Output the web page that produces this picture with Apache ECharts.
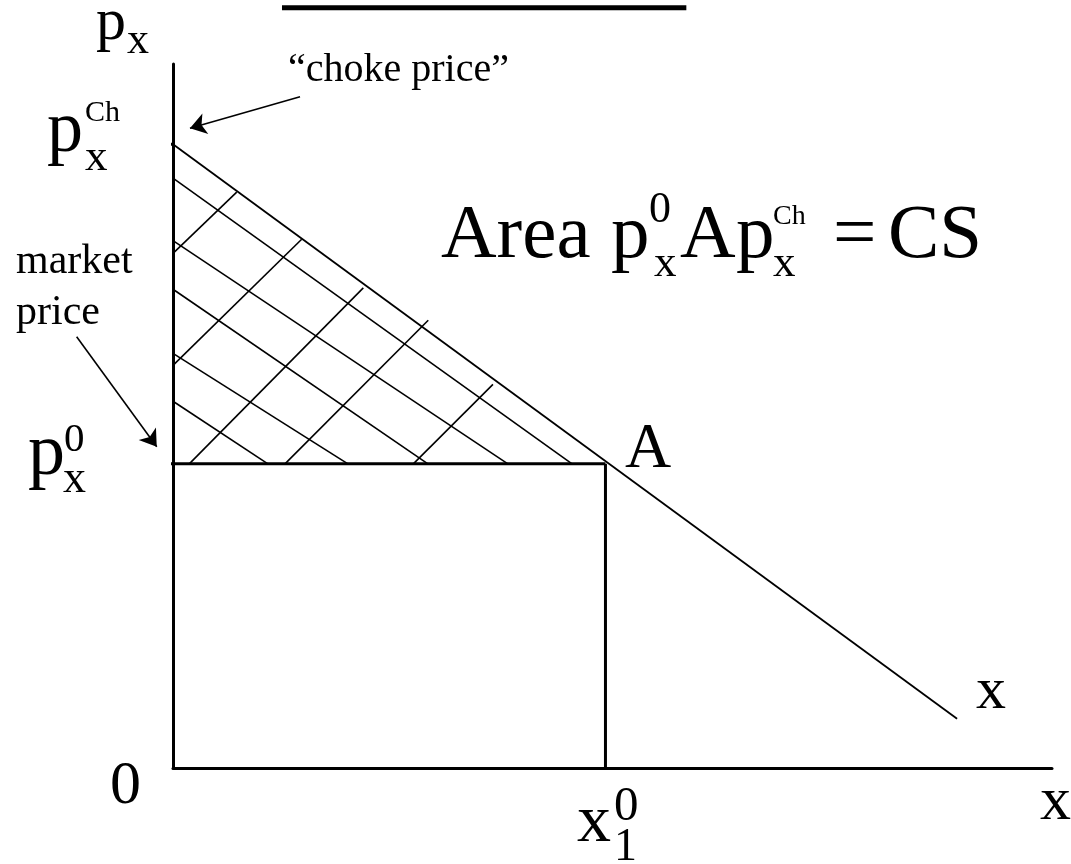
<!DOCTYPE html>
<html>
<head>
<meta charset="utf-8">
<script src="https://cdn.jsdelivr.net/npm/echarts@6/dist/echarts.min.js"></script>
<style>
html,body{margin:0;padding:0;background:#fff;}
#chart{width:1071px;height:864px;}
</style>
</head>
<body>
<div id="chart"></div>
<script>
// ---- data (axis units: x 0..100, p 0..100) ----
const chokePrice = 88.6;           // p_x^Ch
const marketPrice = 43.2;          // p_x^0
const quantity0 = 49.2;            // x_1^0
const tickLeftX = -3.5;            // left end of price ticks
const demandX = [0, 89.2];
const demandY = [88.6, 7.0];
// hatch lines running down-right (from price axis to market price line)
const hatchDownStartY = [83.8, 74.9, 68.0, 58.9, 52.1];
const hatchDownEndX = [45.4, 38.1, 29.0, 19.9, 10.8];
// hatch lines running up-right
const hatchUpStartX = [0, 0, 1.85, 12.74, 27.34];
const hatchUpStartY = [73.1, 57.2, 43.2, 43.2, 43.2];
const hatchUpEndX = [7.25, 14.64, 21.65, 29.04, 36.4];
const hatchUpEndY = [81.8, 75.1, 68.2, 63.6, 54.5];
// annotation arrows [fromX, fromY, toX, toY]
const chokeArrow = [14.45, 95.35, 1.93, 90.87];
const marketArrow = [-10.96, 61.26, -1.85, 45.64];
// rule at the top of the slide
const topRuleX = [12.4, 58.4];
const topRuleY = 108.0;

// ---- build series ----
function seg(points, width) {
  return {
    type: 'line', data: points, symbol: 'none', clip: false, silent: true,
    animation: false, lineStyle: { color: '#000', width: width, cap: 'butt' }
  };
}
const series = [];
series.push(seg([[demandX[0], demandY[0]], [demandX[1], demandY[1]]], 1.8));
series.push(seg([[tickLeftX, chokePrice], [0, chokePrice]], 3));
series.push(seg([[tickLeftX, marketPrice], [quantity0, marketPrice]], 3));
series.push(seg([[quantity0, marketPrice], [quantity0, 0]], 3));
for (let i = 0; i < hatchDownStartY.length; i++) {
  series.push(seg([[0, hatchDownStartY[i]], [hatchDownEndX[i], marketPrice]], 1.6));
}
for (let i = 0; i < hatchUpStartX.length; i++) {
  series.push(seg([[hatchUpStartX[i], hatchUpStartY[i]], [hatchUpEndX[i], hatchUpEndY[i]]], 1.6));
}
series.push(seg([[topRuleX[0], topRuleY], [topRuleX[1], topRuleY]], 5));
series.push({
  type: 'lines', coordinateSystem: 'cartesian2d', clip: false, silent: true, animation: false,
  symbol: ['none', 'arrow'], symbolSize: [12, 16],
  lineStyle: { color: '#000', width: 1.6, opacity: 1, curveness: 0 },
  data: [
    { coords: [[chokeArrow[0], chokeArrow[1]], [chokeArrow[2], chokeArrow[3]]] },
    { coords: [[marketArrow[0], marketArrow[1]], [marketArrow[2], marketArrow[3]]] }
  ]
});

// ---- text labels (left, baseline, size) ----
const FONT = '"Liberation Serif", "Times New Roman", serif';
function label(str, left, baseline, size) {
  return {
    type: 'text', x: left, y: baseline - 0.32 * size, silent: true,
    style: { text: str, fill: '#000', font: size + 'px ' + FONT, align: 'left', verticalAlign: 'middle' }
  };
}
const labels = [
  label('p', 96, 42, 60), label('x', 127, 56, 44),
  label('\u201Cchoke price\u201D', 288, 83, 40),
  label('p', 47, 155, 72), label('Ch', 85, 123, 30), label('x', 85, 173, 45),
  label('Area', 441, 261, 77),
  label('p', 611, 261, 77), label('0', 649, 225, 44), label('x', 654, 279, 45),
  label('A', 680, 261, 77),
  label('p', 736, 261, 77), label('Ch', 773, 226, 28), label('x', 773, 279, 45),
  label('=', 833, 261, 77),
  label('CS', 888, 261, 77),
  label('market', 16, 275, 42), label('price', 16, 326, 42),
  label('p', 28, 478, 74), label('0', 64, 453, 41), label('x', 63, 495, 46),
  label('A', 625, 471, 64),
  label('x', 976, 711, 60),
  label('0', 110, 807, 62),
  label('x', 577, 845, 68), label('0', 614, 823, 49), label('1', 614, 863, 46),
  label('x', 1040, 823, 62)
];

const chart = echarts.init(document.getElementById('chart'), null, { renderer: 'canvas' });
chart.setOption({
  backgroundColor: '#fff',
  animation: false,
  grid: { left: 173, right: 19, top: 64, bottom: 96 },
  xAxis: {
    type: 'value', min: 0, max: 100,
    axisLine: { show: true, onZero: true, lineStyle: { color: '#000', width: 3 } },
    axisTick: { show: false }, axisLabel: { show: false }, splitLine: { show: false }
  },
  yAxis: {
    type: 'value', min: 0, max: 100,
    axisLine: { show: true, onZero: true, lineStyle: { color: '#000', width: 3 } },
    axisTick: { show: false }, axisLabel: { show: false }, splitLine: { show: false }
  },
  series: series,
  graphic: labels
});
</script>
</body>
</html>
